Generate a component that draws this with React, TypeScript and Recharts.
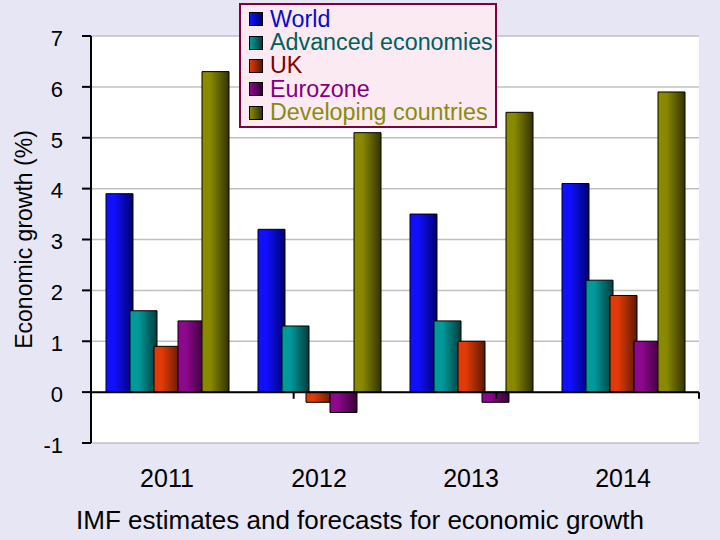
import React from 'react';
import {
  BarChart,
  Bar,
  XAxis,
  YAxis,
  CartesianGrid,
  ReferenceLine,
  Legend,
  Label,
} from 'recharts';

const years = ['2011', '2012', '2013', '2014'];
const world = [3.9, 3.2, 3.5, 4.1];
const advanced = [1.6, 1.3, 1.4, 2.2];
const uk = [0.9, -0.2, 1.0, 1.9];
const eurozone = [1.4, -0.4, -0.2, 1.0];
const developing = [6.3, 5.1, 5.5, 5.9];
const yTicks = [-1, 0, 1, 2, 3, 4, 5, 6, 7];
const boundaryTicks = [1, 2, 3, 4];

const seriesNames = ['World', 'Advanced economies', 'UK', 'Eurozone', 'Developing countries'];
const seriesKeys = ['world', 'advanced', 'uk', 'eurozone', 'developing'];
const seriesLight = ['#1010FF', '#009A9A', '#E03A08', '#8C088C', '#8A8A00'];
const seriesDark = ['#000070', '#003E3E', '#5A1800', '#360036', '#333300'];
const seriesText = ['#0A0ACC', '#006060', '#800000', '#800080', '#8A8A10'];

const data = years.map((y, i) => ({
  year: y,
  world: world[i],
  advanced: advanced[i],
  uk: uk[i],
  eurozone: eurozone[i],
  developing: developing[i],
}));

const W = 720;
const H = 540;
const FONT = '"Liberation Sans", Arial, sans-serif';

const LegendBox = () => (
  <div
    style={{
      boxSizing: 'border-box',
      width: 258,
      height: 125,
      border: '2px solid #800040',
      background: '#FBEAF1',
      padding: '2.5px 8px 0 8px',
      fontFamily: FONT,
      fontSize: 23.3,
      lineHeight: '23.4px',
    }}
  >
    {seriesNames.map((name, i) => (
      <div key={name} style={{ display: 'flex', alignItems: 'center', whiteSpace: 'nowrap', height: 23.4 }}>
        <span
          style={{
            display: 'inline-block',
            boxSizing: 'border-box',
            width: 14,
            height: 14,
            border: '1px solid #000',
            background: `linear-gradient(to right, ${seriesLight[i]}, ${seriesDark[i]})`,
            marginRight: 7,
            flexShrink: 0,
          }}
        />
        <span style={{ color: seriesText[i] }}>{name}</span>
      </div>
    ))}
  </div>
);

export default function App() {
  return (
    <div
      style={{
        position: 'fixed',
        left: 0,
        top: 0,
        width: W,
        height: H,
        background: '#E6E6F5',
        fontFamily: FONT,
      }}
    >
      <BarChart
        width={W}
        height={H}
        data={data}
        margin={{ top: 36, right: 21, left: 0, bottom: 0 }}
        barSize={27}
        barGap={-3}
      >
        <defs>
          {seriesKeys.map((k, i) => (
            <linearGradient key={k} id={`grad-${k}`} x1="0" y1="0" x2="1" y2="0">
              <stop offset="0%" stopColor={seriesLight[i]} />
              <stop offset="30%" stopColor={seriesLight[i]} />
              <stop offset="100%" stopColor={seriesDark[i]} />
            </linearGradient>
          ))}
        </defs>
        <CartesianGrid vertical={false} stroke="#C0C0C0" strokeWidth={1.5} fill="#FFFFFF" />
        <XAxis
          dataKey="year"
          height={97}
          axisLine={false}
          tickLine={false}
          tickSize={0}
          tickMargin={26}
          tick={{ fontSize: 25, fill: '#000', fontFamily: FONT }}
          interval={0}
        >
          <Label
            content={() => (
              <text
                x={W / 2}
                y={529}
                textAnchor="middle"
                fontSize={26}
                fontFamily={FONT}
                fill="#000"
              >
                IMF estimates and forecasts for economic growth
              </text>
            )}
          />
        </XAxis>
        <XAxis xAxisId="n" type="number" domain={[0, 4]} hide />
        <YAxis
          width={91}
          domain={[-1, 7]}
          ticks={yTicks}
          interval={0}
          allowDataOverflow
          axisLine={{ stroke: '#000', strokeWidth: 2 }}
          tickLine={{ stroke: '#000', strokeWidth: 2 }}
          tickSize={9}
          tickMargin={19}
          tick={{ fontSize: 22, fill: '#000', fontFamily: FONT, dy: 2 }}
        >
          <Label
            content={(props: any) => {
              const vb = props.viewBox || { x: 0, y: 36, width: 91, height: 407 };
              const cx = vb.x + 24;
              const cy = vb.y + vb.height / 2;
              return (
                <text
                  x={cx}
                  y={cy}
                  transform={`rotate(-90, ${cx}, ${cy})`}
                  textAnchor="middle"
                  dominantBaseline="central"
                  fontSize={23}
                  fontFamily={FONT}
                  fill="#000"
                >
                  Economic growth (%)
                </text>
              );
            }}
          />
        </YAxis>
        {seriesKeys.map((k, i) => (
          <Bar
            key={k}
            dataKey={k}
            name={seriesNames[i]}
            fill={`url(#grad-${k})`}
            stroke="#000"
            strokeWidth={1}
            isAnimationActive={false}
          />
        ))}
        <ReferenceLine y={0} stroke="#000" strokeWidth={2} />
        {boundaryTicks.map((b) => (
          <ReferenceLine
            key={b}
            xAxisId="n"
            segment={[
              { x: b, y: 0 },
              { x: b, y: -0.13 },
            ]}
            stroke="#000"
            strokeWidth={2}
          />
        ))}
        <Legend
          layout="vertical"
          align="center"
          verticalAlign="middle"
          content={() => <LegendBox />}
          wrapperStyle={{ position: 'absolute', top: 3, left: 239, width: 258, height: 125 }}
        />
      </BarChart>
    </div>
  );
}
